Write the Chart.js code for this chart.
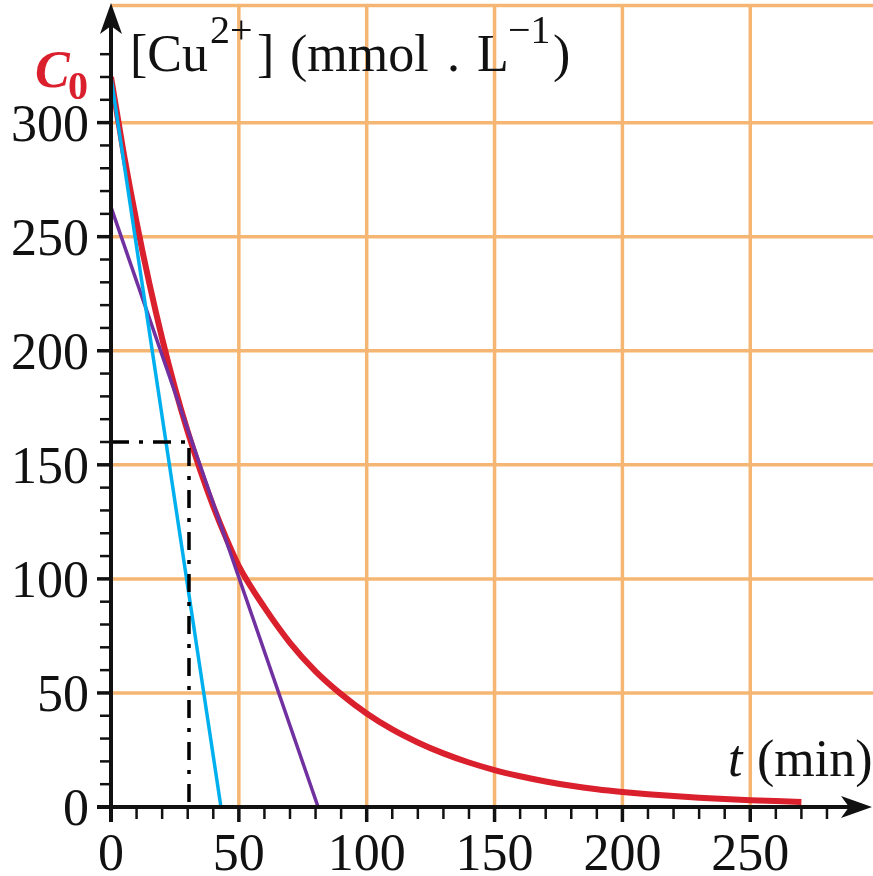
<!DOCTYPE html>
<html>
<head>
<meta charset="utf-8">
<script src="https://cdn.jsdelivr.net/npm/chart.js@4.4.1/dist/chart.umd.min.js"></script>
<style>
body{margin:0;background:#fff}
#box{width:873px;height:876px;position:relative}
</style>
</head>
<body>
<div id="box"><canvas id="graph"></canvas></div>
<script>
// données [Cu2+] = f(t)
var temps=[0,5,10,15,20,25,30,35,40,45,50,60,70,80,90,100,110,120,130,140,150,160,170,180,190,200,210,220,230,240,250,260,270]
var concentration=[320,286.4,256.4,229.5,205.4,183.8,164.5,147.3,131.8,118,105.6,87.5,72,59.5,49.5,41,34,28.3,23.5,19.5,16.2,13.5,11.2,9.3,7.8,6.6,5.6,4.8,4.1,3.5,3.0,2.6,2.2]

// tangente a l'origine (bleu) et tangente au point C0/2 (violet)
var tangente0_t=[0,43]
var tangente0_c=[320,0]
var tangente1_t=[0,81]
var tangente1_c=[263,0]

// pointillés t1/2
var demi_t=[0,30.5,30.5]
var demi_c=[160,160,0]

// graduations
var xGraduations=[0,50,100,150,200,250]
var yGraduations=[0,50,100,150,200,250,300]
var xMineureMax=280
var yMineureMax=330
var pasMineure=10

var couleur_grille='rgb(246,182,115)'
var couleur_rouge='rgb(218,31,45)'
var couleur_bleu='rgb(0,176,238)'
var couleur_violet='rgb(112,48,160)'
var police='"Liberation Serif", "Times New Roman", serif'

function points(xs,ys){  //construire les points {x,y}
    var p=[]
    for(var i=0;i<xs.length;i++){
        p.push({x:xs[i],y:ys[i]})
    }
    return p
}

function fleche(ctx,pts){  // fleche pleine style latex
    ctx.beginPath()
    ctx.moveTo(pts[0][0],pts[0][1])
    for(var i=1;i<pts.length;i++) ctx.lineTo(pts[i][0],pts[i][1])
    ctx.closePath()
    ctx.fill()
}

const grille = {
    id:'grille',
    beforeDatasetsDraw:(chart)=>{
        const {ctx,chartArea}=chart
        const xs=chart.scales.x, ys=chart.scales.y
        ctx.save()
        ctx.strokeStyle=couleur_grille
        ctx.lineWidth=3.5
        ctx.beginPath()
        for(var i=1;i<xGraduations.length;i++){
            var px=xs.getPixelForValue(xGraduations[i])
            ctx.moveTo(px,ys.getPixelForValue(0))
            ctx.lineTo(px,chartArea.top)
        }
        for(var j=1;j<yGraduations.length;j++){
            var py=ys.getPixelForValue(yGraduations[j])
            ctx.moveTo(xs.getPixelForValue(0),py)
            ctx.lineTo(chartArea.right,py)
        }
        ctx.moveTo(xs.getPixelForValue(0),chartArea.top+1.5)
        ctx.lineTo(chartArea.right,chartArea.top+1.5)
        ctx.stroke()
        ctx.restore()
    }
}

const repere = {
    id:'repere',
    afterDatasetsDraw:(chart)=>{
        const {ctx,chartArea}=chart
        const xs=chart.scales.x, ys=chart.scales.y
        var x0=xs.getPixelForValue(0), y0=ys.getPixelForValue(0)
        ctx.save()
        ctx.strokeStyle='#111'
        ctx.fillStyle='#111'

        // axes
        ctx.lineWidth=4
        ctx.beginPath()
        ctx.moveTo(x0,y0+15)
        ctx.lineTo(x0,26)
        ctx.moveTo(x0-14,y0)
        ctx.lineTo(852,y0)
        ctx.stroke()
        fleche(ctx,[[x0,3],[x0+11,34],[x0,26],[x0-11,34]])
        fleche(ctx,[[872,y0],[841,y0+11],[849,y0],[841,y0-11]])

        // graduations y
        for(var v=0;v<=yMineureMax;v+=pasMineure){
            var py=ys.getPixelForValue(v)
            var major=yGraduations.indexOf(v)>=0
            ctx.lineWidth=major?3.5:2.5
            ctx.beginPath()
            ctx.moveTo(x0-(major?14:11),py)
            ctx.lineTo(x0,py)
            ctx.stroke()
        }
        // graduations x
        for(var t=0;t<=xMineureMax;t+=pasMineure){
            var px=xs.getPixelForValue(t)
            var majorX=xGraduations.indexOf(t)>=0
            ctx.lineWidth=majorX?3.5:2.5
            ctx.beginPath()
            ctx.moveTo(px,y0)
            ctx.lineTo(px,y0+(majorX?15:12))
            ctx.stroke()
        }

        // textes des graduations
        ctx.font='52px '+police
        ctx.textAlign='right'
        ctx.textBaseline='alphabetic'
        yGraduations.forEach(v=>{
            ctx.fillText(String(v),89,ys.getPixelForValue(v)+18)
        })
        ctx.textAlign='center'
        xGraduations.forEach(t=>{
            ctx.fillText(String(t),xs.getPixelForValue(t),870)
        })

        // titre axe y
        ctx.textAlign='left'
        ctx.font='52px '+police
        ctx.fillText('[Cu',130,71)
        ctx.fillText(']',257,71)
        ctx.fillText('(mmol',290,71)
        ctx.fillText('.',447,71)
        ctx.fillText('L',477,71)
        ctx.fillText(')',553,71)
        ctx.font='40px '+police
        ctx.fillText('2+',210,43)
        ctx.fillText('\u22121',508,43)

        // titre axe x
        ctx.font='italic 52px '+police
        ctx.fillText('t',728,776)
        ctx.font='52px '+police
        ctx.fillText('(min)',757,776)

        // C0
        ctx.fillStyle=couleur_rouge
        ctx.font='italic bold 52px '+police
        ctx.fillText('C',35,87)
        ctx.font='bold 40px '+police
        ctx.fillText('0',68,99)
        ctx.restore()
    }
}

var config={
    type:'line',
    data:{
        datasets:[
            {   // pointillés
                data:points(demi_t,demi_c),
                borderColor:'#000',
                borderWidth:3.5,
                borderDash:[18,10,4,10],
                pointRadius:0,
                fill:false,
                tension:0
            },
            {
                data:points(tangente0_t,tangente0_c),
                borderColor:couleur_bleu,
                borderWidth:3.5,
                pointRadius:0,
                fill:false,
                tension:0
            },
            {
                data:points(tangente1_t,tangente1_c),
                borderColor:couleur_violet,
                borderWidth:3.5,
                pointRadius:0,
                fill:false,
                tension:0
            },
            {   // courbe
                data:points(temps,concentration),
                borderColor:couleur_rouge,
                borderWidth:6,
                pointRadius:0,
                fill:false,
                cubicInterpolationMode:'monotone'
            }
        ]
    },
    options:{
        responsive:true,
        maintainAspectRatio:false,
        animation:false,
        events:[],
        layout:{padding:{left:111,right:0,top:4,bottom:69}},
        plugins:{
            legend:{display:false},
            tooltip:{enabled:false}
        },
        scales:{
            x:{type:'linear',min:0,max:298,display:false},
            y:{type:'linear',min:0,max:352,display:false}
        }
    },
    plugins:[grille,repere]
}

var chart=new Chart(document.getElementById('graph'),config)
</script>
</body>
</html>
